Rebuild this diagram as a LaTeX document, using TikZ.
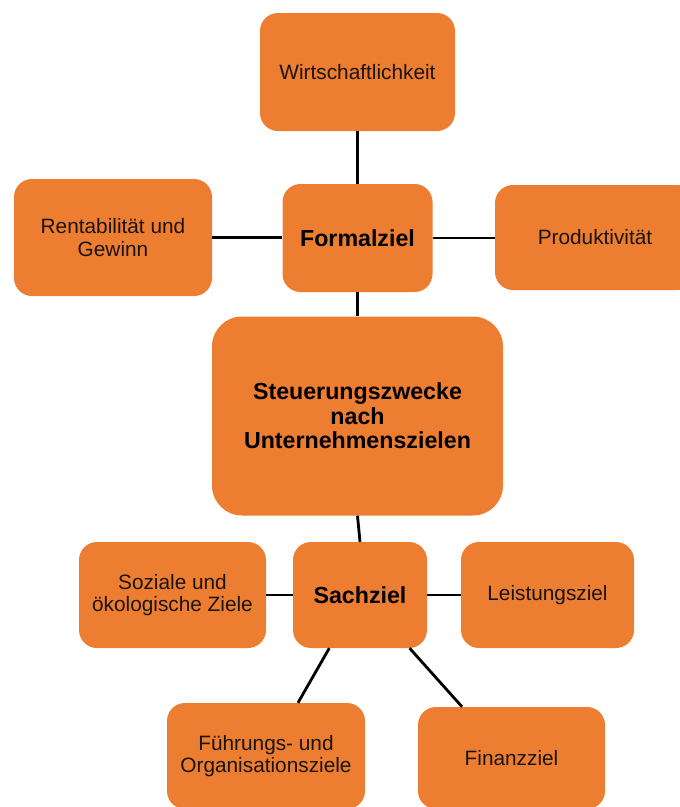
\documentclass[tikz,border=0pt]{standalone}
\usepackage{fontspec}
\setmainfont{Liberation Sans}
\definecolor{boxorange}{HTML}{ED7D31}
\definecolor{txt}{HTML}{1A1410}
\tikzset{
  box/.style={draw=none, fill=boxorange, rounded corners=18pt, inner sep=0pt,
    align=center, text=txt, font=\fontsize{20.8}{22.5}\selectfont},
  keybox/.style={box, font=\fontsize{23.2}{24.5}\selectfont\bfseries, text=black},
  link/.style={draw=black, line width=2.8pt}
}
\begin{document}
\begin{tikzpicture}[x=1pt,y=-1pt]
\useasboundingbox (0,0) rectangle (680,807);
\node[box, minimum width=195pt, minimum height=118pt] (wirt) at (357.5,72) {Wirtschaftlichkeit};
\node[keybox, minimum width=150pt, minimum height=108pt] (formal) at (357.5,238) {Formalziel};
\node[box, minimum width=198pt, minimum height=117pt] (rent) at (113,237.5) {Rentabilität und\\Gewinn};
\node[box, minimum width=200pt, minimum height=105pt] (prod) at (595,237.5) {Produktivität};
\node[keybox, rounded corners=30pt, minimum width=291pt, minimum height=199pt] (steu) at (357.5,416) {Steuerungszwecke\\nach\\Unternehmenszielen};
\node[keybox, minimum width=134pt, minimum height=106pt] (sach) at (360,595) {Sachziel};
\node[box, minimum width=187pt, minimum height=106pt] (soz) at (172.5,595) {Soziale und\\ökologische Ziele};
\node[box, minimum width=173pt, minimum height=106pt] (leis) at (547.5,595) {Leistungsziel};
\node[box, minimum width=198pt, minimum height=106pt] (fue) at (266,756) {Führungs- und\\Organisationsziele};
\node[box, minimum width=187pt, minimum height=102pt] (fin) at (511.5,758) {Finanzziel};
\draw[link] (wirt.south) -- (formal.north);
\draw[link] (rent.east) -- (rent.east -| formal.west);
\draw[link] (formal.east) -- (formal.east -| prod.west);
\draw[link] (formal.south) -- (steu.north);
\draw[link] (steu.south) -- (sach.north);
\draw[link] (soz.east) -- (sach.west);
\draw[link] (sach.east) -- (leis.west);
\draw[link] (sach.240) -- (fue.59);
\draw[link] (sach.313) -- (fin.134);
\end{tikzpicture}
\end{document}
